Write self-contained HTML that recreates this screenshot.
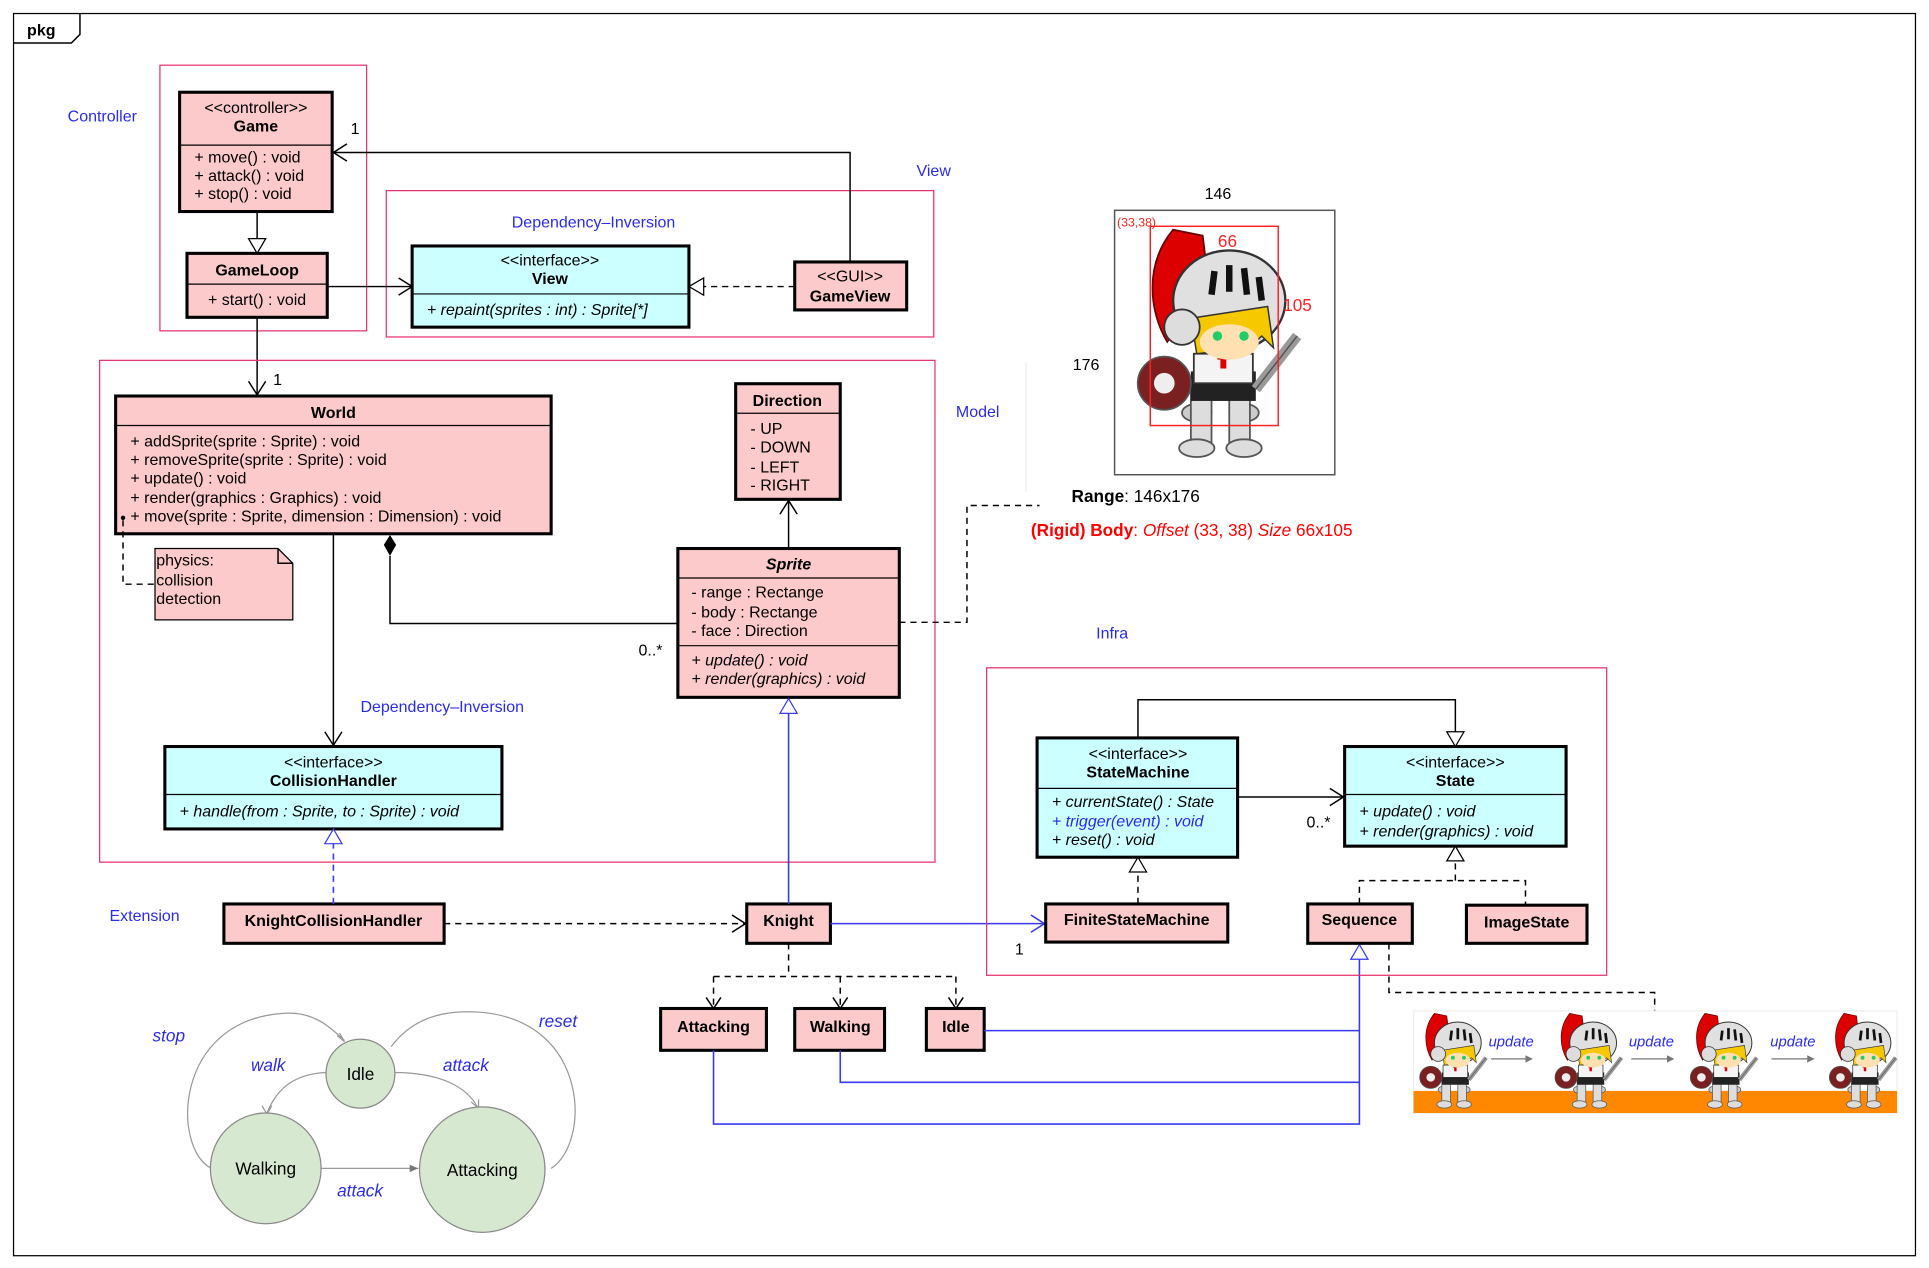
<!DOCTYPE html>
<html><head><meta charset="utf-8"><style>
html,body{margin:0;padding:0;background:#fff}
svg{display:block}
text{font-family:"Liberation Sans",sans-serif;font-size:13px;fill:#000}
.b{font-weight:bold}.i{font-style:italic}.bl{fill:#2a2af0}
.c{fill:#fccaca;stroke:#000;stroke-width:2.5}
.f{fill:#ccffff;stroke:#000;stroke-width:2.5}
.pk{fill:none;stroke:#e8306a;stroke-width:1}
.ln{fill:none;stroke:#000;stroke-width:1.2}
.dl{fill:none;stroke:#000;stroke-width:1.2;stroke-dasharray:5,4}
.bln{fill:none;stroke:#3a3af5;stroke-width:1.3}
.sd{fill:#d6e8cf;stroke:#888;stroke-width:1}
.gl{fill:none;stroke:#999;stroke-width:1}
</style></head><body>
<svg width="1929" height="1268" viewBox="0 0 1568 1031" preserveAspectRatio="none" xmlns="http://www.w3.org/2000/svg">
<defs>
<g id="kn">
<path d="M14,2 C4,14 6,30 12,40 L26,20 L24,4 Z" fill="#d00" stroke="#600" stroke-width="0.6"/>
<ellipse cx="22" cy="64" rx="5" ry="3" fill="#ccc" stroke="#555" stroke-width="0.6"/>
<ellipse cx="38" cy="64" rx="5" ry="3" fill="#ccc" stroke="#555" stroke-width="0.6"/>
<rect x="20" y="56" width="7" height="18" fill="#ddd" stroke="#555" stroke-width="0.6"/>
<rect x="33" y="56" width="7" height="18" fill="#ddd" stroke="#555" stroke-width="0.6"/>
<ellipse cx="22" cy="76" rx="6" ry="3" fill="#ddd" stroke="#555" stroke-width="0.6"/>
<ellipse cx="38" cy="76" rx="6" ry="3" fill="#ddd" stroke="#555" stroke-width="0.6"/>
<rect x="20" y="50" width="22" height="10" fill="#222"/>
<rect x="21" y="44" width="20" height="10" fill="#f4f4f4" stroke="#333" stroke-width="0.6"/>
<path d="M29,45 L33,45 M31,43 L31,49" stroke="#d00" stroke-width="2"/>
<ellipse cx="33" cy="26" rx="19" ry="17" fill="#e0e0e0" stroke="#333" stroke-width="0.8"/>
<path d="M28,16 L27,24 M33,14 L33,23 M38,15 L39,24 M43,18 L44,26" stroke="#111" stroke-width="2.2"/>
<path d="M20,32 L46,28 L48,42 L44,38 L40,42 L22,44 Z" fill="#f5c800" stroke="#333" stroke-width="0.5"/>
<ellipse cx="33" cy="40" rx="10" ry="6" fill="#ffe0b0"/>
<circle cx="29" cy="38" r="1.6" fill="#2c6"/><circle cx="38" cy="38" r="1.6" fill="#2c6"/>
<circle cx="17" cy="35" r="6" fill="#ddd" stroke="#333" stroke-width="0.6"/>
<circle cx="11" cy="54" r="9" fill="#7a2020" stroke="#555" stroke-width="0.6"/>
<circle cx="11" cy="54" r="3.5" fill="#eee"/>
<path d="M42,56 L56,38" stroke="#999" stroke-width="3.5"/>
<path d="M42,56 L56,38" stroke="#555" stroke-width="0.5"/>
</g>
</defs>
<!-- frame -->
<rect x="11" y="11" width="1546" height="1010" fill="none" stroke="#000" stroke-width="1"/>
<path d="M11,35 L58,35 L65,28 L65,11" class="ln"/>
<text x="22" y="29" class="b">pkg</text>

<!-- Controller -->
<rect x="130" y="53" width="168" height="216" class="pk"/>
<text x="55" y="99" class="bl">Controller</text>
<rect x="146" y="75" width="124" height="97" class="c"/>
<line x1="146" y1="118" x2="270" y2="118" stroke="#000"/>
<text x="208" y="92" text-anchor="middle">&lt;&lt;controller&gt;&gt;</text>
<text x="208" y="107" text-anchor="middle" class="b">Game</text>
<text x="158" y="132">+ move() : void</text>
<text x="158" y="147">+ attack() : void</text>
<text x="158" y="162">+ stop() : void</text>
<rect x="152" y="206" width="114" height="52" class="c"/>
<line x1="152" y1="231" x2="266" y2="231" stroke="#000"/>
<text x="209" y="224" text-anchor="middle" class="b">GameLoop</text>
<text x="209" y="248" text-anchor="middle">+ start() : void</text>
<line x1="209" y1="172" x2="209" y2="194" class="ln"/>
<path d="M202,194 L216,194 L209,206 Z" fill="#fff" stroke="#000"/>

<!-- View -->
<rect x="314" y="155" width="445" height="119" class="pk"/>
<text x="745" y="143" class="bl">View</text>
<text x="416" y="185" class="bl">Dependency–Inversion</text>
<rect x="335" y="200" width="225" height="66" class="f"/>
<line x1="335" y1="239" x2="560" y2="239" stroke="#000"/>
<text x="447" y="216" text-anchor="middle">&lt;&lt;interface&gt;&gt;</text>
<text x="447" y="231" text-anchor="middle" class="b">View</text>
<text x="347" y="256" class="i">+ repaint(sprites : int) : Sprite[*]</text>
<rect x="646" y="213" width="91" height="39" class="c"/>
<text x="691" y="229" text-anchor="middle">&lt;&lt;GUI&gt;&gt;</text>
<text x="691" y="245" text-anchor="middle" class="b">GameView</text>
<line x1="646" y1="233" x2="572" y2="233" class="dl"/>
<path d="M572,226 L572,240 L560,233 Z" fill="#fff" stroke="#000"/>
<path d="M691,213 L691,124 L271,124" class="ln"/>
<path d="M282,117 L271,124 L282,131" class="ln"/>
<text x="285" y="109">1</text>
<line x1="266" y1="233" x2="335" y2="233" class="ln"/>
<path d="M324,226 L335,233 L324,240" class="ln"/>
<line x1="209" y1="258" x2="209" y2="321" class="ln"/>
<path d="M202,310 L209,321 L216,310" class="ln"/>
<text x="222" y="313">1</text>

<!-- Model -->
<rect x="81" y="293" width="679" height="408" class="pk"/>
<text x="777" y="339" class="bl">Model</text>
<rect x="94" y="322" width="354" height="112" class="c"/>
<line x1="94" y1="346" x2="448" y2="346" stroke="#000"/>
<text x="271" y="340" text-anchor="middle" class="b">World</text>
<text x="106" y="363">+ addSprite(sprite : Sprite) : void</text>
<text x="106" y="378">+ removeSprite(sprite : Sprite) : void</text>
<text x="106" y="393">+ update() : void</text>
<text x="106" y="409">+ render(graphics : Graphics) : void</text>
<text x="106" y="424">+ move(sprite : Sprite, dimension : Dimension) : void</text>
<circle cx="100" cy="421" r="1.8" fill="#000"/>
<path d="M100,423 L100,475 L126,475" class="dl"/>
<path d="M126,446 L226,446 L238,458 L238,504 L126,504 Z" fill="#fccaca" stroke="#000"/>
<path d="M226,446 L226,458 L238,458" class="ln"/>
<text x="127" y="460">physics:</text>
<text x="127" y="476">collision</text>
<text x="127" y="491">detection</text>

<rect x="598" y="312" width="85" height="94" class="c"/>
<line x1="598" y1="336" x2="683" y2="336" stroke="#000"/>
<text x="640" y="330" text-anchor="middle" class="b">Direction</text>
<text x="610" y="353">- UP</text><text x="610" y="368">- DOWN</text>
<text x="610" y="384">- LEFT</text><text x="610" y="399">- RIGHT</text>

<rect x="551" y="446" width="180" height="121" class="c"/>
<line x1="551" y1="470" x2="731" y2="470" stroke="#000"/>
<line x1="551" y1="525" x2="731" y2="525" stroke="#000"/>
<text x="641" y="463" text-anchor="middle" class="b i">Sprite</text>
<text x="562" y="486">- range : Rectange</text>
<text x="562" y="502">- body : Rectange</text>
<text x="562" y="517">- face : Direction</text>
<text x="562" y="541" class="i">+ update() : void</text>
<text x="562" y="556" class="i">+ render(graphics) : void</text>
<line x1="641" y1="446" x2="641" y2="407" class="ln"/>
<path d="M634,418 L641,407 L648,418" class="ln"/>
<path d="M317,452 L317,507 L551,507" class="ln"/>
<path d="M317,435 L322,443 L317,452 L312,443 Z" fill="#000"/>
<text x="519" y="533">0..*</text>

<line x1="271" y1="434" x2="271" y2="606" class="ln"/>
<path d="M264,595 L271,606 L278,595" class="ln"/>
<text x="293" y="579" class="bl">Dependency–Inversion</text>
<rect x="134" y="607" width="274" height="67" class="f"/>
<line x1="134" y1="646" x2="408" y2="646" stroke="#000"/>
<text x="271" y="624" text-anchor="middle">&lt;&lt;interface&gt;&gt;</text>
<text x="271" y="639" text-anchor="middle" class="b">CollisionHandler</text>
<text x="146" y="664" class="i">+ handle(from : Sprite, to : Sprite) : void</text>

<!-- Extension -->
<text x="89" y="749" class="bl">Extension</text>
<rect x="182" y="735" width="179" height="32" class="c"/>
<text x="271" y="753" text-anchor="middle" class="b">KnightCollisionHandler</text>
<line x1="271" y1="735" x2="271" y2="686" class="bln" stroke-dasharray="5,4"/>
<path d="M264,686 L278,686 L271,674 Z" fill="#fff" stroke="#3a3af5"/>
<line x1="361" y1="751" x2="606" y2="751" class="dl"/>
<path d="M595,744 L606,751 L595,758" class="ln"/>
<rect x="607" y="735" width="68" height="32" class="c"/>
<text x="641" y="753" text-anchor="middle" class="b">Knight</text>
<line x1="641" y1="735" x2="641" y2="580" class="bln"/>
<path d="M634,580 L648,580 L641,568 Z" fill="#fff" stroke="#3a3af5"/>
<line x1="675" y1="751" x2="849" y2="751" class="bln"/>
<path d="M838,744 L849,751 L838,758" class="bln"/>
<text x="825" y="776">1</text>
<path d="M641,767 L641,794 M580,794 L777,794 M580,794 L580,819 M683,794 L683,819 M777,794 L777,819" class="dl"/>
<path d="M574,811 L580,820 L586,811 M677,811 L683,820 L689,811 M771,811 L777,820 L783,811" class="ln"/>
<rect x="537" y="820" width="86" height="34" class="c"/>
<text x="580" y="839" text-anchor="middle" class="b">Attacking</text>
<rect x="646" y="820" width="73" height="34" class="c"/>
<text x="683" y="839" text-anchor="middle" class="b">Walking</text>
<rect x="753" y="820" width="47" height="34" class="c"/>
<text x="777" y="839" text-anchor="middle" class="b">Idle</text>
<path d="M800,838 L1105,838 M683,854 L683,880 L1105,880 M580,854 L580,914 L1105,914 L1105,780" class="bln"/>
<path d="M1098,780 L1112,780 L1105,768 Z" fill="#fff" stroke="#3a3af5"/>

<!-- sprite image -->
<path d="M731,506 L786,506 L786,411 L845,411" class="dl"/>
<line x1="834" y1="295" x2="834" y2="400" stroke="#eee"/>
<text x="990" y="162" text-anchor="middle">146</text>
<text x="872" y="301">176</text>
<rect x="906" y="171" width="179" height="215" fill="none" stroke="#555" stroke-width="1.2"/>
<g transform="translate(920,182) scale(2.4,2.4)"><use href="#kn"/></g>
<rect x="935" y="184" width="104" height="162" fill="none" stroke="#f22" stroke-width="1.2"/>
<text x="908" y="184" style="font-size:10px;fill:#f22">(33,38)</text>
<text x="990" y="201" style="fill:#f22;font-size:14px">66</text>
<text x="1043" y="253" style="fill:#f22;font-size:14px">105</text>
<text x="871" y="408" style="font-size:14px"><tspan class="b">Range</tspan>: 146x176</text>
<text x="838" y="436" style="font-size:14px;fill:#f00"><tspan style="font-weight:bold;fill:#f00">(Rigid) Body</tspan>: <tspan style="font-style:italic;fill:#f00">Offset</tspan> (33, 38) <tspan style="font-style:italic;fill:#f00">Size</tspan> 66x105</text>

<!-- Infra -->
<text x="891" y="519" class="bl">Infra</text>
<rect x="802" y="543" width="504" height="250" class="pk"/>
<rect x="843" y="600" width="163" height="97" class="f"/>
<line x1="843" y1="641" x2="1006" y2="641" stroke="#000"/>
<text x="925" y="617" text-anchor="middle">&lt;&lt;interface&gt;&gt;</text>
<text x="925" y="632" text-anchor="middle" class="b">StateMachine</text>
<text x="855" y="656" class="i">+ currentState() : State</text>
<text x="855" y="672" class="i bl">+ trigger(event) : void</text>
<text x="855" y="687" class="i">+ reset() : void</text>
<rect x="1093" y="607" width="180" height="81" class="f"/>
<line x1="1093" y1="646" x2="1273" y2="646" stroke="#000"/>
<text x="1183" y="624" text-anchor="middle">&lt;&lt;interface&gt;&gt;</text>
<text x="1183" y="639" text-anchor="middle" class="b">State</text>
<text x="1105" y="664" class="i">+ update() : void</text>
<text x="1105" y="680" class="i">+ render(graphics) : void</text>
<line x1="1006" y1="648" x2="1092" y2="648" class="ln"/>
<path d="M1081,641 L1092,648 L1081,655" class="ln"/>
<text x="1062" y="673">0..*</text>
<path d="M925,600 L925,569 L1183,569 L1183,595" class="ln"/>
<path d="M1176,595 L1190,595 L1183,607 Z" fill="#fff" stroke="#000"/>
<rect x="850" y="735" width="148" height="31" class="c"/>
<text x="924" y="752" text-anchor="middle" class="b">FiniteStateMachine</text>
<line x1="925" y1="735" x2="925" y2="709" class="dl"/>
<path d="M918,709 L932,709 L925,697 Z" fill="#fff" stroke="#000"/>
<rect x="1063" y="735" width="85" height="32" class="c"/>
<text x="1105" y="752" text-anchor="middle" class="b">Sequence</text>
<rect x="1192" y="736" width="98" height="31" class="c"/>
<text x="1241" y="754" text-anchor="middle" class="b">ImageState</text>
<path d="M1105,735 L1105,716 L1240,716 L1240,735 M1183,716 L1183,700" class="dl"/>
<path d="M1176,700 L1190,700 L1183,688 Z" fill="#fff" stroke="#000"/>
<path d="M1129,767 L1129,807 L1345,807 L1345,822" class="dl"/>

<!-- strip -->
<rect x="1149" y="822" width="393" height="83" fill="#fff" stroke="#eee"/>
<rect x="1149" y="887" width="393" height="18" fill="#ff8800"/>
<g transform="translate(1152,822)"><use href="#kn"/></g>
<g transform="translate(1262,822)"><use href="#kn"/></g>
<g transform="translate(1372,822)"><use href="#kn"/></g>
<g transform="translate(1485,822)"><use href="#kn"/></g>
<text x="1210" y="851" class="bl i" style="font-size:12px">update</text>
<text x="1324" y="851" class="bl i" style="font-size:12px">update</text>
<text x="1439" y="851" class="bl i" style="font-size:12px">update</text>
<path d="M1212,861 L1240,861 M1326,861 L1355,861 M1440,861 L1469,861" stroke="#777"/>
<path d="M1240,858 L1246,861 L1240,864 Z M1355,858 L1361,861 L1355,864 Z M1469,858 L1475,861 L1469,864 Z" fill="#777"/>

<!-- state diagram -->
<path d="M172,950 C140,935 140,830 230,824 C255,822 268,835 280,846" class="gl"/>
<path d="M274,842 L280,847 L276,840" class="gl"/>
<path d="M448,950 C480,930 480,830 390,823 C350,820 330,835 318,851" class="gl"/>
<path d="M268,872 C240,872 225,885 217,905" class="gl"/>
<path d="M213,899 L217,906 L221,899" class="gl"/>
<path d="M320,872 C360,872 380,885 388,900" class="gl"/>
<path d="M383,896 L389,901 L389,894" class="gl"/>
<line x1="261" y1="950" x2="340" y2="950" class="gl"/>
<path d="M333,947 L340,950 L333,953 Z" fill="#777"/>
<circle cx="293" cy="873" r="28" class="sd"/>
<circle cx="216" cy="950" r="45" class="sd"/>
<circle cx="392" cy="951" r="51" class="sd"/>
<text x="293" y="878" text-anchor="middle" style="font-size:14px">Idle</text>
<text x="216" y="955" text-anchor="middle" style="font-size:14px">Walking</text>
<text x="392" y="956" text-anchor="middle" style="font-size:14px">Attacking</text>
<text x="124" y="847" class="bl i" style="font-size:14px">stop</text>
<text x="204" y="871" class="bl i" style="font-size:14px">walk</text>
<text x="360" y="871" class="bl i" style="font-size:14px">attack</text>
<text x="438" y="835" class="bl i" style="font-size:14px">reset</text>
<text x="274" y="973" class="bl i" style="font-size:14px">attack</text>
</svg>
</body></html>
